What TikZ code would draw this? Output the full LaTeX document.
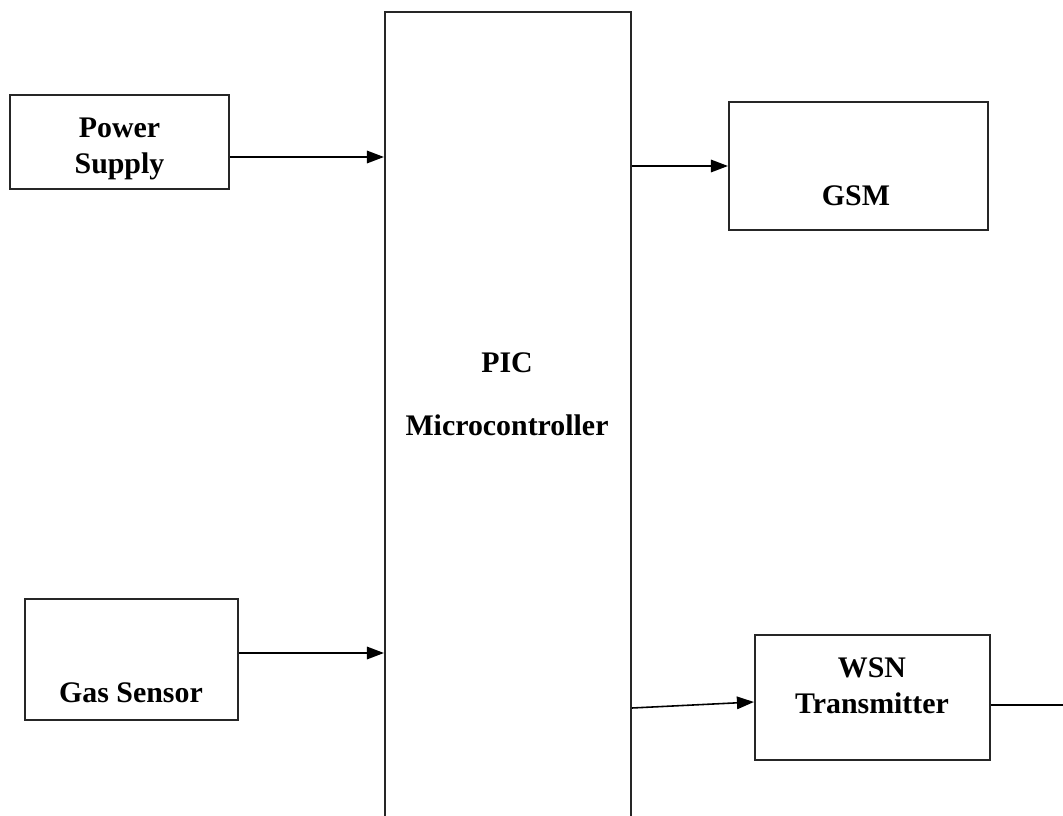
\documentclass[tikz,border=0pt]{standalone}
\usepackage{fontspec}
\setmainfont{Liberation Serif}
\usetikzlibrary{arrows.meta, positioning}

\begin{document}
\begin{tikzpicture}[x=0.1mm, y=-0.1mm]
    \tikzstyle{block} = [rectangle, draw=black!85, line width=0.6pt, inner sep=0pt]
    \tikzstyle{caption} = [font=\fontsize{8.5}{10.2}\selectfont\bfseries, align=center, inner sep=0pt]
    \tikzstyle{link} = [line width=0.45pt, -{Triangle[length=1.7mm, width=1.25mm]}]

    \clip (0,0) rectangle (1063,816);
    \fill[white] (0,0) rectangle (1063,816);

    % blocks
    \node (pic) [block, minimum width=24.6mm, minimum height=82mm] at (508,422) {};
    \node (ps) [block, minimum width=21.9mm, minimum height=9.4mm] at (119.5,142) {};
    \node (gas) [block, minimum width=21.3mm, minimum height=12.1mm] at (131.5,659.5) {};
    \node (gsm) [block, minimum width=25.9mm, minimum height=12.8mm] at (858.5,166) {};
    \node (wsn) [block, minimum width=23.5mm, minimum height=12.5mm] at (872.5,697.5) {};

    % captions
    \node (pslabel) [caption] at (119.5,149) {Power\\Supply};
    \node (piclabel) [caption] at (507,394) {PIC\\[7.7pt]Microcontroller};
    \node (gaslabel) [caption] at (131,693) {Gas Sensor};
    \node (gsmlabel) [caption] at (856,196) {GSM};
    \node (wsnlabel) [caption] at (872,686) {WSN\\Transmitter};
    \coordinate (out) at (1080,705);

    % connectors
    \draw [link] ([yshift=-1.5mm]ps.east) -- ([yshift=-1.5mm]ps.east -| pic.west);
    \draw [link] ([yshift=0.65mm]gas.east) -- ([yshift=0.65mm]gas.east -| pic.west);
    \draw [link] (gsm.west -| pic.east) -- (gsm.west);
    \draw [link] ([yshift=-1.05mm]wsn.west -| pic.east) -- ([yshift=-0.45mm]wsn.west);
    \draw [line width=0.45pt] ([yshift=-0.75mm]wsn.east) -- (out);
\end{tikzpicture}
\end{document}
